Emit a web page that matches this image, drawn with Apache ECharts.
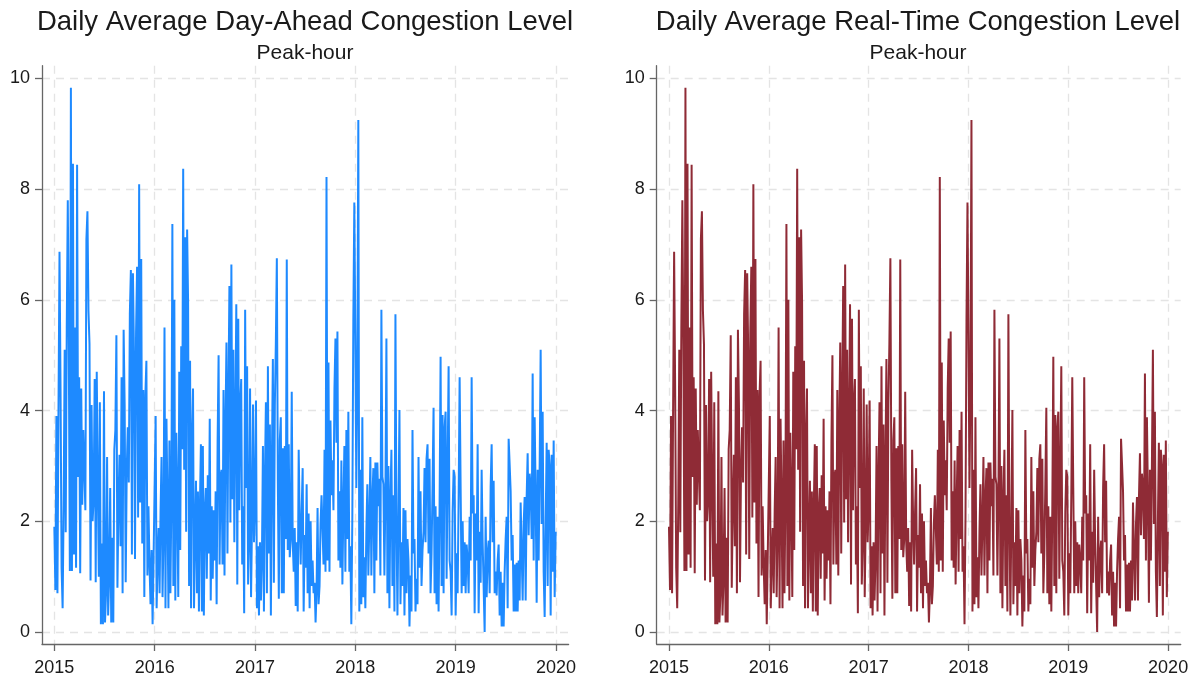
<!DOCTYPE html>
<html>
<head>
<meta charset="utf-8">
<script src="https://cdn.jsdelivr.net/npm/echarts@6/dist/echarts.min.js"></script>
<style>
html,body{margin:0;padding:0;background:#ffffff;}
#chart{width:1199px;height:683px;}
</style>
</head>
<body>
<div id="chart"></div>
<script>
// ---- text ----
const titleLeft = 'Daily Average Day-Ahead Congestion Level';
const titleRight = 'Daily Average Real-Time Congestion Level';
const subtitle = 'Peak-hour';

// ---- axes ----
const xTickYears = [2015, 2016, 2017, 2018, 2019, 2020];
const yTickValues = [0, 2, 4, 6, 8, 10];
const years = [2015, 2016, 2017, 2018, 2019];

const v2015 = [1.9, 0.76, 3.9, 0.7, 4.0, 6.87, 4.4, 1.16, 0.43, 2.3, 5.1, 1.8, 5.5, 7.8, 5.1, 1.1, 9.83, 1.1, 8.46, 1.4, 5.5, 1.16, 8.44, 2.8, 4.6, 1.06, 4.4, 2.3, 3.65, 3.65, 2.2, 7.1, 7.6, 5.8, 5.2, 0.93, 4.1, 2.0, 2.4, 4.57, 0.9, 4.7, 2.7, 1.0, 4.15, 0.14, 1.6, 0.14, 4.35, 0.17, 0.7, 3.16, 0.3, 0.96, 2.6, 0.17, 1.7, 0.17, 3.3, 3.65, 5.36, 0.8, 2.3, 3.2, 1.55, 4.6, 0.7, 5.46, 4.08, 0.9, 2.93, 3.7, 2.7, 5.75, 6.54, 1.4, 6.48, 5.03, 1.32, 5.4, 6.6, 2.07, 8.09, 2.34, 6.74, 1.6, 4.37, 0.63, 4.28, 4.9, 1.02, 2.27, 1.22, 0.5, 1.48, 0.14, 1.42];
const v2016 = [1.42, 3.9, 0.43, 1.35, 1.88, 0.7, 2.2, 3.16, 0.63, 1.75, 5.5, 0.43, 3.85, 2.34, 0.43, 3.46, 0.7, 2.4, 7.37, 0.83, 6.0, 0.57, 3.6, 2.4, 0.63, 4.7, 1.48, 5.16, 3.3, 8.37, 2.93, 7.13, 1.81, 7.27, 5.95, 0.83, 4.9, 0.43, 3.49, 4.4, 0.43, 1.75, 2.73, 0.7, 2.54, 0.37, 2.27, 3.39, 0.37, 3.36, 0.3, 2.17, 2.6, 0.96, 2.83, 1.42, 3.85, 0.57, 2.27, 0.96, 2.2, 1.29, 2.54, 0.5, 3.46, 5.0, 1.22, 2.8, 2.93, 1.22, 4.37, 1.02, 3.75, 5.23, 1.42, 4.3, 6.25, 1.98, 6.64, 2.4, 5.1, 1.62, 3.85, 5.92, 0.86, 5.66, 2.2, 4.11, 4.57, 1.22, 2.27, 0.34, 5.82, 2.6, 4.8, 0.86, 1.68, 4.4, 0.63, 2.0, 4.11, 1.62];
const v2017 = [2.3, 4.18, 0.43, 1.55, 0.3, 1.62, 0.57, 1.35, 3.36, 0.37, 2.8, 4.15, 0.7, 4.8, 1.42, 3.75, 0.3, 3.06, 4.93, 0.89, 4.11, 5.23, 6.75, 2.73, 0.6, 3.46, 3.88, 0.7, 3.32, 0.7, 3.36, 1.68, 6.73, 1.48, 3.39, 1.35, 1.68, 4.34, 1.62, 1.09, 1.88, 0.47, 1.62, 0.37, 3.29, 2.0, 1.22, 2.2, 2.96, 0.37, 1.75, 1.16, 2.67, 0.7, 2.14, 0.43, 2.0, 0.83, 1.29, 0.7, 0.89, 0.17, 0.76, 2.24, 0.5, 0.83, 1.95, 2.47, 2.5, 1.22, 3.29, 1.09, 8.22, 1.29, 4.87, 1.09, 3.82, 2.47, 3.1, 2.2, 4.4, 5.3, 3.42, 5.43, 1.29, 2.54, 1.16, 3.1, 0.86, 2.27, 3.36, 1.09, 3.65, 1.68, 3.98, 1.09, 1.55, 0.14, 2.08, 5.62, 7.76];
const v2018 = [5.36, 2.6, 4.5, 9.25, 0.37, 2.93, 0.5, 3.88, 0.63, 1.35, 0.43, 1.81, 2.67, 1.02, 2.0, 3.16, 1.02, 2.4, 2.96, 0.7, 3.06, 1.29, 3.06, 2.27, 2.77, 1.02, 5.82, 2.8, 2.67, 1.02, 2.47, 5.3, 0.7, 3.0, 0.43, 2.4, 3.29, 0.83, 2.47, 0.37, 5.74, 2.04, 0.3, 2.08, 4.01, 0.5, 1.62, 0.83, 2.24, 0.3, 2.2, 0.7, 1.68, 1.29, 0.1, 1.02, 0.37, 3.65, 1.42, 1.68, 0.37, 0.96, 0.5, 3.16, 1.16, 2.54, 0.83, 1.48, 1.81, 2.96, 1.62, 3.13, 3.39, 1.42, 3.13, 0.7, 1.42, 2.67, 4.05, 0.7, 2.27, 0.5, 2.08, 0.37, 2.27, 4.97, 0.83, 3.92, 0.7, 3.69, 3.98, 0.96, 2.93, 4.8, 1.29, 1.09, 0.3, 2.17, 2.93, 2.8];
const v2019 = [0.3, 1.42, 0.7, 2.44, 4.6, 2.6, 0.7, 2.0, 0.83, 1.62, 0.7, 1.58, 1.29, 0.7, 2.08, 1.29, 4.6, 2.14, 2.47, 0.34, 2.14, 1.29, 3.39, 0.34, 1.81, 0.89, 2.93, 1.62, 1.62, 0.0, 2.08, 0.63, 1.42, 1.65, 0.7, 2.63, 3.39, 1.62, 2.73, 0.7, 1.09, 0.66, 1.29, 1.58, 0.3, 1.09, 0.1, 0.89, 0.1, 1.09, 1.68, 2.08, 0.43, 3.49, 3.03, 2.54, 1.29, 1.75, 0.37, 1.22, 0.37, 1.25, 0.37, 1.29, 0.57, 2.34, 2.34, 0.57, 1.95, 2.44, 0.57, 2.44, 3.23, 1.75, 2.86, 2.6, 1.68, 4.67, 1.29, 3.88, 2.47, 0.53, 2.93, 1.29, 3.0, 5.1, 1.95, 3.98, 1.09, 0.27, 1.95, 3.42, 0.83, 3.29, 3.0, 0.3, 3.2, 1.09, 3.46, 0.63, 1.81];

// Day-ahead and real-time panels show the same series in the picture
const valuesByYear = [v2015, v2016, v2017, v2018, v2019];

function buildPoints(list) {
  const pts = [];
  list.forEach(function (arr, k) {
    const yr = years[k];
    const isLast = k === list.length - 1;
    const n = isLast ? arr.length - 1 : arr.length;
    const span = isLast ? 0.997 : 1;
    arr.forEach(function (v, i) { pts.push([yr + (i * span) / n, v]); });
  });
  return pts;
}
const points = buildPoints(valuesByYear);

const FONT = '"Liberation Sans", Arial, Helvetica, sans-serif';
const axisColor = '#666666';
const gridColor = '#e4e4e4';
const textColor = '#1a1a1a';

function xAxisCfg(idx) {
  return {
    type: 'value', gridIndex: idx, min: 2014.877, max: 2020.126,
    axisLine: { show: true, onZero: false, lineStyle: { color: axisColor, width: 1.3 } },
    axisTick: { show: true, length: 7, customValues: xTickYears, lineStyle: { color: axisColor, width: 1.3 } },
    axisLabel: { customValues: xTickYears, formatter: function (v) { return String(Math.round(v)); },
      fontSize: 18, color: textColor, fontFamily: FONT, margin: 15 },
    splitLine: { show: true, lineStyle: { type: [8, 6], color: gridColor, width: 1.3 } }
  };
}
function yAxisCfg(idx) {
  return {
    type: 'value', gridIndex: idx, min: -0.217, max: 10.23,
    axisLine: { show: true, onZero: false, lineStyle: { color: axisColor, width: 1.3 } },
    axisTick: { show: true, length: 7, customValues: yTickValues, lineStyle: { color: axisColor, width: 1.3 } },
    axisLabel: { customValues: yTickValues, fontSize: 18, color: textColor, fontFamily: FONT, margin: 12 },
    splitLine: { show: true, lineStyle: { type: [8, 6], color: gridColor, width: 1.3 } }
  };
}
function titleCfg(text, cx) {
  return {
    text: text, subtext: subtitle, left: cx, top: 8, padding: 0, textAlign: 'center', itemGap: 7,
    textStyle: { fontSize: 27.5, fontWeight: 'normal', color: textColor, fontFamily: FONT },
    subtextStyle: { fontSize: 21, color: textColor, fontFamily: FONT }
  };
}

const chart = echarts.init(document.getElementById('chart'), null, { renderer: 'canvas' });
chart.setOption({
  animation: false,
  backgroundColor: '#ffffff',
  title: [titleCfg(titleLeft, 305), titleCfg(titleRight, 918)],
  grid: [
    { left: 42, top: 65.7, width: 526.6, height: 578.3 },
    { left: 656.7, top: 65.7, width: 524, height: 578.3 }
  ],
  xAxis: [xAxisCfg(0), xAxisCfg(1)],
  yAxis: [yAxisCfg(0), yAxisCfg(1)],
  series: [
    { type: 'line', xAxisIndex: 0, yAxisIndex: 0, data: points, showSymbol: false, symbol: 'none',
      lineStyle: { color: '#1e8aff', width: 2 }, itemStyle: { color: '#1e8aff' } },
    { type: 'line', xAxisIndex: 1, yAxisIndex: 1, data: points, showSymbol: false, symbol: 'none',
      lineStyle: { color: '#8f2b36', width: 2 }, itemStyle: { color: '#8f2b36' } }
  ]
});
</script>
</body>
</html>
